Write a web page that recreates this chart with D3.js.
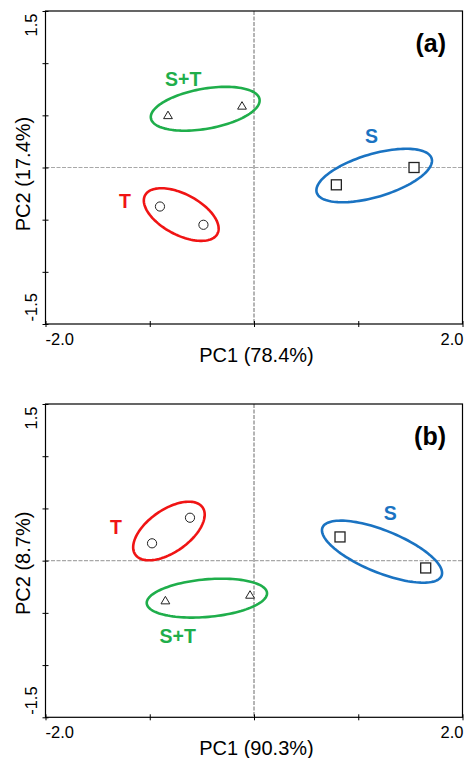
<!DOCTYPE html>
<html>
<head>
<meta charset="utf-8">
<script src="https://cdn.jsdelivr.net/npm/d3@7"></script>
<style>
  html, body { margin: 0; padding: 0; background: #fff; }
  svg { display: block; font-family: "Liberation Sans", Arial, sans-serif; }
</style>
</head>
<body>
<svg id="chart" width="465" height="758"></svg>
<script>
// ---------- DATA ----------
const groups = ["S", "T", "S+T"];
const groupColors = ["#1a73c2", "#f01414", "#1fae4b"];
const groupShapes = ["square", "circle", "triangle"];

const xTicks = [-2, -1, 0, 1, 2];
const yTicks = [-1.5, -1, -0.5, 0, 0.5, 1, 1.5];
const xEndLabels = ["-2.0", "2.0"];
const yEndLabels = ["-1.5", "1.5"];

const panelNames = ["(a)", "(b)"];
const xTitles = ["PC1 (78.4%)", "PC1 (90.3%)"];
const yTitles = ["PC2 (17.4%)", "PC2 (8.7%)"];

// panel (a) scores: [PC1, PC2]
const scoresA_S  = [[0.790, -0.166], [1.535, 0.000]];
const scoresA_T  = [[-0.902, -0.374], [-0.485, -0.549]];
const scoresA_ST = [[-0.825, 0.499], [-0.115, 0.590]];
// panel (b) scores
const scoresB_S  = [[0.825, 0.227], [1.647, -0.070]];
const scoresB_T  = [[-0.978, 0.166], [-0.614, 0.411]];
const scoresB_ST = [[-0.850, -0.383], [-0.038, -0.329]];

// confidence ellipses: [centre PC1, centre PC2, semi-axis a, semi-axis b, angle deg]
const ellA_S  = [1.153, -0.077, 0.575, 0.206, 16.5];
const ellA_T  = [-0.698, -0.451, 0.393, 0.195, -28];
const ellA_ST = [-0.468, 0.563, 0.529, 0.192, 10];
const ellB_S  = [1.228, 0.086, 0.616, 0.202, -22];
const ellB_T  = [-0.816, 0.284, 0.394, 0.203, 35];
const ellB_ST = [-0.452, -0.359, 0.579, 0.180, 5];

// group label anchor points [PC1, PC2]
const labA = [[1.127, 0.237], [-1.237, -0.386], [-0.679, 0.783]];
const labB = [[1.308, 0.389], [-1.324, 0.255], [-0.732, -0.785]];

// ---------- DRAW ----------
const svg = d3.select("#chart");
const panels = [
  { top: 11,  bottom: 324,   scores: [scoresA_S, scoresA_T, scoresA_ST], ells: [ellA_S, ellA_T, ellA_ST], labs: labA, yTitleDy: 6.5 },
  { top: 404, bottom: 717.3, scores: [scoresB_S, scoresB_T, scoresB_ST], ells: [ellB_S, ellB_T, ellB_ST], labs: labB, yTitleDy: 2.7 }
];
const left = 45.5, right = 462.5;

panels.forEach((p, pi) => {
  const g = svg.append("g");
  const x = d3.scaleLinear().domain([xTicks[0], xTicks[xTicks.length - 1]]).range([left, right]);
  const y = d3.scaleLinear().domain([yTicks[0], yTicks[yTicks.length - 1]]).range([p.bottom, p.top]);

  // zero reference lines
  g.append("line")
    .attr("x1", x(0)).attr("x2", x(0)).attr("y1", p.top).attr("y2", p.bottom)
    .attr("stroke", "#6a6a6a").attr("stroke-width", 1).attr("stroke-dasharray", "4,1.5");
  g.append("line")
    .attr("x1", left).attr("x2", right).attr("y1", y(0)).attr("y2", y(0))
    .attr("stroke", "#a8a8a8").attr("stroke-width", 1.2).attr("stroke-dasharray", "4,1.5");

  // frame
  g.append("rect")
    .attr("x", left).attr("y", p.top)
    .attr("width", right - left).attr("height", p.bottom - p.top)
    .attr("fill", "none").attr("stroke", "#000").attr("stroke-width", 1.2);

  // ticks (crossing the axis)
  const xa = g.append("g").attr("transform", `translate(0,${p.bottom + 3})`)
    .call(d3.axisBottom(x).tickValues(xTicks).tickSize(-6).tickFormat(""));
  const ya = g.append("g").attr("transform", `translate(${left - 3},0)`)
    .call(d3.axisLeft(y).tickValues(yTicks).tickSize(-6).tickFormat(""));
  [xa, ya].forEach(a => {
    a.select(".domain").remove();
    a.selectAll("line").attr("stroke", "#000").attr("stroke-width", 1);
  });

  // end tick labels
  g.append("text").attr("x", x(xTicks[0])).attr("y", p.bottom + 21)
    .attr("font-size", 16.5).attr("text-anchor", "start").text(xEndLabels[0]);
  g.append("text").attr("x", x(xTicks[xTicks.length - 1]) + 1).attr("y", p.bottom + 21)
    .attr("font-size", 16.5).attr("text-anchor", "end").text(xEndLabels[1]);
  g.append("text").attr("transform", `translate(36.5,${y(yTicks[0]) - 2.5}) rotate(-90)`)
    .attr("font-size", 16.5).attr("text-anchor", "start").text(yEndLabels[0]);
  g.append("text").attr("transform", `translate(36.5,${y(yTicks[yTicks.length - 1]) + 2.5}) rotate(-90)`)
    .attr("font-size", 16.5).attr("text-anchor", "end").text(yEndLabels[1]);

  // axis titles
  g.append("text").attr("x", 256.5).attr("y", p.bottom + 37.5)
    .attr("font-size", 20).attr("text-anchor", "middle").text(xTitles[pi]);
  g.append("text")
    .attr("transform", `translate(30,${(p.top + p.bottom) / 2 + p.yTitleDy}) rotate(-90)`)
    .attr("font-size", 20).attr("text-anchor", "middle").text(yTitles[pi]);

  // panel letter
  g.append("text").attr("x", 446).attr("y", p.top + 40.5)
    .attr("font-size", 25).attr("font-weight", "bold").attr("text-anchor", "end").text(panelNames[pi]);

  // ellipses
  const line = d3.line().x(d => x(d[0])).y(d => y(d[1])).curve(d3.curveLinearClosed);
  p.ells.forEach((e, gi) => {
    const [cx, cy, a, b, ang] = e;
    const th = ang * Math.PI / 180;
    const pts = d3.range(0, 360, 3).map(t => {
      const r = t * Math.PI / 180;
      const u = a * Math.cos(r), v = b * Math.sin(r);
      return [cx + u * Math.cos(th) - v * Math.sin(th), cy + u * Math.sin(th) + v * Math.cos(th)];
    });
    g.append("path").attr("d", line(pts))
      .attr("fill", "none").attr("stroke", groupColors[gi]).attr("stroke-width", 2.6);
  });

  // points
  p.scores.forEach((arr, gi) => {
    const shape = groupShapes[gi];
    arr.forEach(d => {
      const px = x(d[0]), py = y(d[1]);
      if (shape === "circle") {
        g.append("circle").attr("cx", px).attr("cy", py).attr("r", 4.6)
          .attr("fill", "#fff").attr("stroke", "#222").attr("stroke-width", 1);
      } else if (shape === "square") {
        g.append("rect").attr("x", px - 5).attr("y", py - 5).attr("width", 10).attr("height", 10)
          .attr("fill", "#fff").attr("stroke", "#222").attr("stroke-width", 1.3);
      } else {
        g.append("path")
          .attr("d", `M${px},${py - 4.3} L${px + 4.4},${py + 3.2} L${px - 4.4},${py + 3.2} Z`)
          .attr("fill", "#fff").attr("stroke", "#222").attr("stroke-width", 1);
      }
    });
  });

  // group labels
  p.labs.forEach((d, gi) => {
    g.append("text").attr("x", x(d[0])).attr("y", y(d[1]))
      .attr("font-size", 19.5).attr("font-weight", "bold").attr("text-anchor", "middle")
      .attr("fill", groupColors[gi]).text(groups[gi]);
  });
});
</script>
</body>
</html>
